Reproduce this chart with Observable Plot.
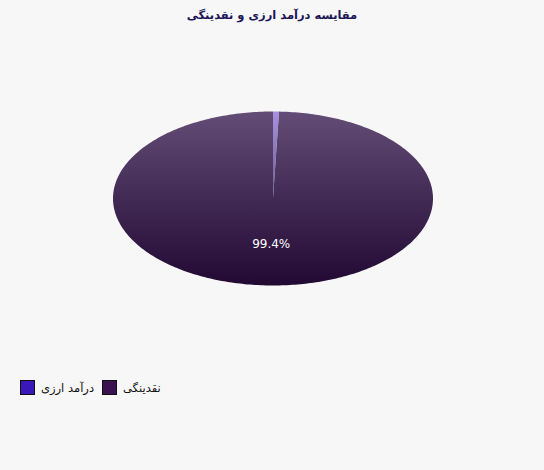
<!DOCTYPE html>
<html>
<head>
<meta charset="utf-8">
<script src="https://cdn.jsdelivr.net/npm/d3@7"></script>
<script src="https://cdn.jsdelivr.net/npm/@observablehq/plot@0.6"></script>
<style>
  html, body { margin: 0; padding: 0; background: #f7f7f7; width: 544px; height: 470px; overflow: hidden; }
  #title { height: 30px; line-height: 30px; text-align: center; font-family: "DejaVu Sans", sans-serif; font-weight: bold; font-size: 11.5px; color: #1c1557; direction: rtl; }
  #legend { position: absolute; left: 20px; top: 380px; display: flex; flex-direction: row; align-items: center; font-family: "DejaVu Sans", sans-serif; font-size: 11.5px; color: #111; direction: ltr; }
  .item { display: flex; align-items: center; margin-right: 8px; }
  .sw { width: 15px; height: 15px; border: 1px solid #111; margin-right: 6px; box-sizing: border-box; }
  svg { display: block; }
</style>
</head>
<body>
<div id="title"></div>
<div id="chart"></div>
<div id="legend"></div>
<script>
const title = "مقایسه درآمد ارزی و نقدینگی";
const categories = ["درآمد ارزی", "نقدینگی"];
const values = [0.6, 99.4];
const legendColors = ["#3a17b8", "#3a1252"];
const labels = ["0.6%", "99.4%"];

document.getElementById("title").textContent = title;

const W = 544, H = 340;
const pie = d3.pie().sort(null).startAngle(0).endAngle(2 * Math.PI)(values);

// sample each slice outline in unit coordinates (x right, y up)
const pts = [];
pie.forEach((s, i) => {
  pts.push({k: categories[i], x: 0, y: 0});
  const n = Math.max(2, Math.ceil((s.endAngle - s.startAngle) * 60));
  for (let j = 0; j <= n; ++j) {
    const a = s.startAngle + (s.endAngle - s.startAngle) * j / n;
    pts.push({k: categories[i], x: Math.sin(a), y: Math.cos(a)});
  }
});
const labelPts = pie.map((s, i) => {
  const a = (s.startAngle + s.endAngle) / 2;
  return {k: categories[i], t: labels[i], x: 0.6 * Math.sin(a), y: 0.52 * Math.cos(a)};
});

const fills = {};
fills[categories[0]] = "url(#gSmall)";
fills[categories[1]] = "url(#gBig)";

const plot = Plot.plot({
  width: W, height: H,
  margin: 0,
  style: {background: "transparent", overflow: "visible"},
  x: {domain: [-1, 1], range: [112.5, 432.5], axis: null},
  y: {domain: [-1, 1], range: [255, 81], axis: null},
  marks: [
    Plot.line(pts.filter(d => d.k === categories[1]), {x: "x", y: "y", curve: "linear-closed", fill: fills[categories[1]], stroke: "none"}),
    Plot.line(pts.filter(d => d.k === categories[0]), {x: "x", y: "y", curve: "linear-closed", fill: fills[categories[0]], fillOpacity: 0.75, stroke: "none"}),
    Plot.text(labelPts.filter(d => d.k === categories[1]), {x: "x", y: "y", text: "t", fill: "white", fontSize: 12, fontFamily: "DejaVu Sans"})
  ]
});

const ns = "http://www.w3.org/2000/svg";
const defs = document.createElementNS(ns, "defs");
defs.innerHTML = `
  <linearGradient id="gBig" gradientUnits="userSpaceOnUse" x1="0" y1="81" x2="0" y2="255">
    <stop offset="0" stop-color="#634c76"/>
    <stop offset="0.5" stop-color="#412a54"/>
    <stop offset="1" stop-color="#220933"/>
  </linearGradient>
  <linearGradient id="gSmall" gradientUnits="userSpaceOnUse" x1="0" y1="81" x2="0" y2="168">
    <stop offset="0" stop-color="#8a6fd8"/>
    <stop offset="1" stop-color="#3d2a6a"/>
  </linearGradient>`;
plot.insertBefore(defs, plot.firstChild);
document.getElementById("chart").appendChild(plot);

const legend = document.getElementById("legend");
categories.forEach((c, i) => {
  const it = document.createElement("div");
  it.className = "item";
  const sw = document.createElement("div");
  sw.className = "sw";
  sw.style.background = legendColors[i];
  const tx = document.createElement("span");
  tx.textContent = c;
  tx.style.direction = "rtl";
  it.appendChild(sw); it.appendChild(tx);
  legend.appendChild(it);
});
</script>
</body>
</html>
